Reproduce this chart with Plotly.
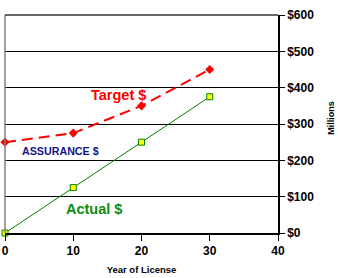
import plotly.graph_objects as go

years = [0, 10, 20, 30]
target = [250, 275, 350, 450]
actual = [0, 125, 250, 375]
y_ticks = [0, 100, 200, 300, 400, 500, 600]
y_tick_labels = ["$0", "$100", "$200", "$300", "$400", "$500", "$600"]
x_ticks = [0, 10, 20, 30, 40]

fig = go.Figure()
fig.add_trace(go.Scatter(
    x=years, y=target, mode="lines+markers",
    line=dict(color="#ff0000", width=2, dash="11px,6px"),
    marker=dict(symbol="diamond", size=7, color="#ff0000"),
    showlegend=False, cliponaxis=False))
fig.add_trace(go.Scatter(
    x=years, y=actual, mode="lines+markers",
    line=dict(color="#008000", width=1),
    marker=dict(symbol="square", size=6, color="#ffff00", line=dict(color="#008000", width=1)),
    showlegend=False, cliponaxis=False))

fnt = "Liberation Sans, Arial, sans-serif"
fig.update_layout(
    width=338, height=278,
    margin=dict(l=5, r=60, t=15, b=45),
    paper_bgcolor="white", plot_bgcolor="white",
    font=dict(family=fnt, color="black"),
    xaxis=dict(range=[0, 40], tickvals=x_ticks, showgrid=False, automargin=False,
               showline=True, linecolor="black", linewidth=1.5,
               ticks="outside", ticklen=6, tickcolor="black",
               tickfont=dict(size=12, family=fnt, weight="bold"),
               title=dict(text="Year of License", font=dict(size=9.5, family=fnt, weight="bold"), standoff=9),
               zeroline=False, mirror=False),
    yaxis=dict(range=[0, 600], tickvals=y_ticks, ticktext=y_tick_labels, side="right",
               showgrid=True, gridcolor="black", gridwidth=1, automargin=False,
               showline=True, linecolor="black", linewidth=1.5,
               ticks="outside", ticklen=5, tickcolor="black",
               tickfont=dict(size=12, family=fnt, weight="bold"),
               zeroline=False),
)
# left border and top border
fig.add_shape(type="line", xref="paper", yref="paper", x0=0, x1=0, y0=0, y1=1,
              line=dict(color="#808080", width=1.5))
fig.add_shape(type="line", xref="paper", yref="paper", x0=0, x1=1, y0=1, y1=1,
              line=dict(color="#333333", width=1.5))

fig.add_annotation(xref="paper", yref="paper", x=1.195, y=0.53, text="Millions", textangle=-90,
                   showarrow=False, xanchor="center", yanchor="middle",
                   font=dict(size=9, family=fnt, weight="bold", color="black"))

fig.add_annotation(x=16.6, y=380, text="Target $", showarrow=False,
                   font=dict(size=14.5, color="#ff0000", family=fnt, weight="bold"))
fig.add_annotation(x=8.2, y=226, text="ASSURANCE $", showarrow=False,
                   font=dict(size=10.7, color="#14148a", family=fnt, weight="bold"))
fig.add_annotation(x=13.0, y=66, text="Actual $", showarrow=False,
                   font=dict(size=14.5, color="#108a10", family=fnt, weight="bold"))

fig.write_html("out.html", config={"displayModeBar": False},
               post_script="document.body.style.margin='0';document.body.style.padding='0';")
